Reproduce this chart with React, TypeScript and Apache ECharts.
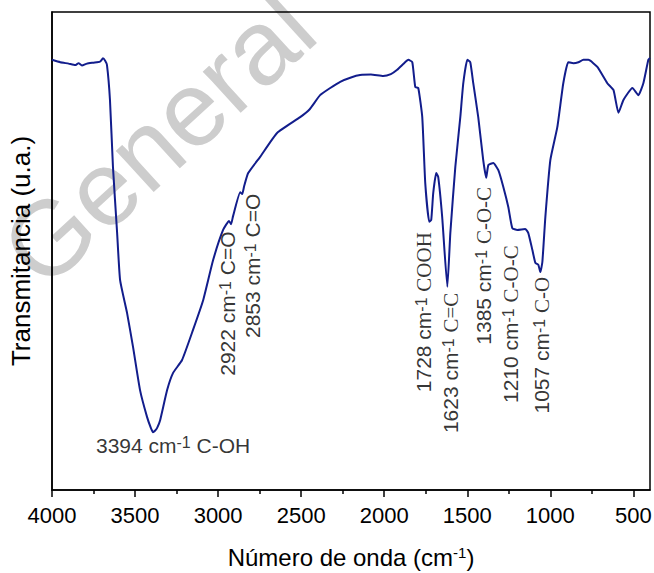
import React, { useEffect, useRef } from "react";
import * as echarts from "echarts";

// FTIR spectrum (wavenumber in cm-1, transmittance in a.u.)
const wavenumber = [
  4000, 3950, 3900, 3860, 3840, 3820, 3790, 3750, 3711, 3693, 3680, 3669, 3651, 3633, 3608, 3590,
  3548, 3512, 3470, 3428, 3405, 3392, 3380, 3367, 3349, 3307, 3271, 3217, 3151, 3090, 3030, 2970,
  2934, 2922, 2910, 2867, 2855, 2843, 2819, 2747, 2645, 2506, 2450, 2386, 2325, 2265, 2200, 2145,
  2080, 2006, 1960, 1922, 1880, 1855, 1831, 1813, 1795, 1771, 1753, 1729, 1717, 1705, 1687, 1675,
  1651, 1620, 1602, 1572, 1542, 1524, 1500, 1482, 1464, 1434, 1404, 1386, 1373, 1343, 1313, 1283,
  1253, 1229, 1199, 1151, 1133, 1108, 1090, 1072, 1060, 1048, 1030, 1000, 958, 922, 892, 861, 831,
  801, 771, 717, 657, 620, 590, 560, 506, 470, 440, 410, 400,
];
const transmittance = [
  90.0, 89.5, 89.2, 88.9, 89.3, 88.8, 89.2, 89.4, 89.6, 90.3, 89.8, 88.9, 81.6, 67.6, 53.8, 43.9,
  37.0, 29.9, 20.9, 15.3, 13.0, 12.1, 12.4, 13.0, 14.6, 20.9, 24.5, 27.2, 33.5, 39.7, 48.1, 54.4,
  56.3, 55.6, 57.3, 62.3, 61.9, 63.6, 66.3, 69.7, 74.7, 78.0, 79.6, 82.6, 84.1, 85.4, 86.3, 86.8,
  86.9, 86.6, 87.0, 87.9, 89.3, 90.0, 89.5, 84.3, 84.1, 78.0, 64.2, 56.1, 56.5, 62.1, 66.3, 65.5,
  57.1, 42.5, 53.8, 67.6, 78.0, 85.1, 90.0, 89.5, 85.1, 78.0, 69.0, 65.3, 68.0, 68.4, 66.9, 63.4,
  59.2, 54.8, 54.4, 54.6, 53.8, 50.2, 47.5, 47.1, 45.6, 47.7, 57.1, 69.0, 75.9, 85.1, 89.5, 89.3, 89.5,
  90.0, 90.0, 88.5, 85.1, 83.7, 78.9, 81.6, 84.1, 82.6, 85.1, 90.0, 90.4,
];

const xTickValues = [4000, 3500, 3000, 2500, 2000, 1500, 1000, 500];
const xMinorTickValues = [3750, 3250, 2750, 2250, 1750, 1250, 750];

// Band annotations
const peakPositions = ["3394", "2922", "2853", "1728", "1623", "1385", "1210", "1057"];
const peakGroups = ["C-OH", "C=O", "C=O", "COOH", "C=C", "C-O-C", "C-O-C", "C-O"];

// Layout of the annotation texts (label centres in data space), kept apart from the data
const labelAnchors: [number, number][] = [
  [3271, 8.6],
  [2922, 39.0],
  [2771, 46.9],
  [1741, 37.2],
  [1578, 26.6],
  [1380, 46.9],
  [1217, 34.7],
  [1030, 30.3],
];
const labelRotate = [0, 90, 90, 90, 90, 90, 90, 90];
const groupSerif = [false, false, false, true, true, true, true, true];

const SANS = "Liberation Sans";
const SERIF = "Liberation Serif";

export default function App() {
  const ref = useRef<HTMLDivElement>(null);

  useEffect(() => {
    if (!ref.current) return;
    const chart = echarts.init(ref.current, null, { renderer: "svg" });

    const spectrum = wavenumber.map((w, i) => [w, transmittance[i]]);

    const annotationData = peakPositions.map((p, i) => ({
      value: labelAnchors[i],
      label: {
        show: true,
        position: "inside",
        rotate: labelRotate[i],
        color: "#000",
        formatter: `{n|${p} cm}{s|-1}{n| }{${groupSerif[i] ? "gs" : "g"}|${peakGroups[i]}}`,
      },
    }));

    const rich = {
      n: { fontFamily: SANS, fontSize: 21, lineHeight: 28, verticalAlign: "top", color: "#000" },
      s: { fontFamily: SANS, fontSize: 16, lineHeight: 16, verticalAlign: "top", color: "#000" },
      g: { fontFamily: SANS, fontSize: 21, lineHeight: 28, verticalAlign: "top", color: "#000" },
      gs: { fontFamily: SERIF, fontSize: 21, lineHeight: 28, verticalAlign: "top", color: "#000" },
    };

    const commonX = {
      type: "value",
      min: 400,
      max: 4000,
      inverse: true,
      position: "bottom",
      splitLine: { show: false },
    };

    chart.setOption({
      animation: false,
      backgroundColor: "#fff",
      grid: {
        left: 52,
        right: 4,
        top: 12,
        bottom: 83,
        containLabel: false,
        outerBoundsMode: "none",
        show: true,
        borderColor: "#000",
        borderWidth: 1.5,
        backgroundColor: "transparent",
      },
      graphic: [
        {
          type: "text",
          x: 158,
          y: 138,
          rotation: 0.74,
          z: -10,
          silent: true,
          style: {
            text: "General",
            font: `106px ${SANS}`,
            fill: "#cdcdcd",
            align: "center",
            verticalAlign: "middle",
          },
        },
      ],
      xAxis: [
        {
          ...commonX,
          name: "{a|Número de onda (cm}{b|-1}{a|)}",
          nameLocation: "middle",
          nameGap: 55,
          nameTextStyle: {
            rich: {
              a: { fontFamily: SANS, fontSize: 24, lineHeight: 30, verticalAlign: "top", color: "#000" },
              b: { fontFamily: SANS, fontSize: 15, lineHeight: 18, verticalAlign: "top", color: "#000" },
            },
          },
          axisLine: { show: true, lineStyle: { color: "#000", width: 1.5 } },
          axisTick: {
            show: true,
            inside: false,
            length: 7,
            lineStyle: { color: "#000", width: 1.5 },
            customValues: xTickValues,
          },
          axisLabel: {
            show: true,
            margin: 14,
            fontFamily: SANS,
            fontSize: 22,
            color: "#000",
            customValues: xTickValues,
            formatter: (v: number) => String(v),
          },
        },
        {
          ...commonX,
          axisLine: { show: false },
          axisTick: {
            show: true,
            inside: false,
            length: 4,
            lineStyle: { color: "#000", width: 1.5 },
            customValues: xMinorTickValues,
          },
          axisLabel: { show: false },
        },
      ],
      yAxis: {
        type: "value",
        min: 0,
        max: 100,
        name: "Transmitancia (u.a.)",
        nameLocation: "middle",
        nameGap: 18,
        nameTextStyle: { fontFamily: SANS, fontSize: 26, color: "#000" },
        axisLine: { show: true, lineStyle: { color: "#000", width: 1.5 } },
        axisTick: { show: false },
        axisLabel: { show: false },
        splitLine: { show: false },
      },
      series: [
        {
          type: "line",
          xAxisIndex: 0,
          data: spectrum,
          showSymbol: false,
          smooth: 0.15,
          lineStyle: { color: "#121d8c", width: 2 },
          z: 3,
        },
        {
          type: "scatter",
          xAxisIndex: 0,
          data: annotationData,
          symbolSize: 1,
          itemStyle: { color: "transparent" },
          silent: true,
          label: { show: true, color: "#000", rich },
          z: 4,
        },
      ],
    });

    return () => chart.dispose();
  }, []);

  return (
    <div
      ref={ref}
      style={{ position: "absolute", left: 0, top: 0, width: 654, height: 573 }}
    />
  );
}
